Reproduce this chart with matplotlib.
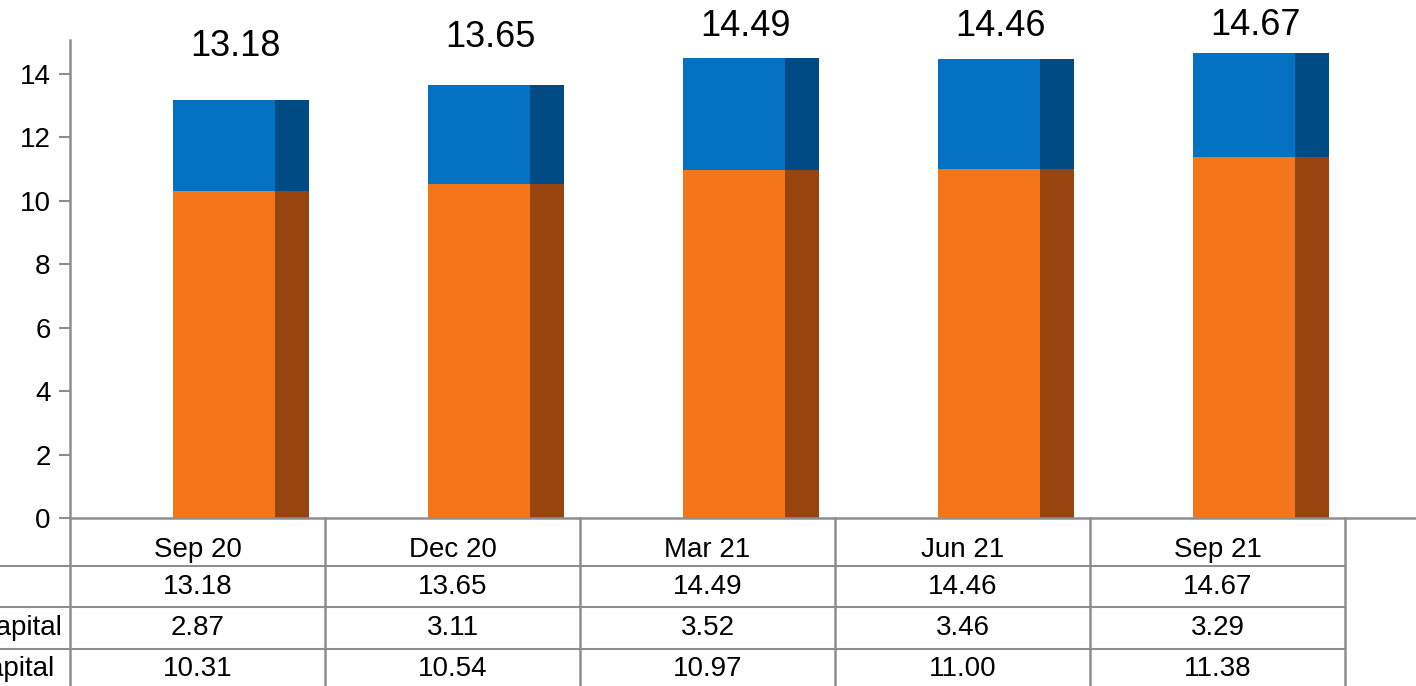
import matplotlib.pyplot as plt
from matplotlib.patches import Rectangle

plt.rcParams['font.family'] = ['Liberation Sans', 'DejaVu Sans']

# Capital adequacy by quarter (%)
quarters = ["Sep 20", "Dec 20", "Mar 21", "Jun 21", "Sep 21"]
tier1 = [10.31, 10.54, 10.97, 11.00, 11.38]
tier2 = [2.87, 3.11, 3.52, 3.46, 3.29]
total = [13.18, 13.65, 14.49, 14.46, 14.67]
row_labels = ["", "Tier II Capital", "Tier I Capital"]

# heights of the total labels above the bars
label_y = [14.85, 15.15, 15.48, 15.48, 15.52]

orange, orange_side = '#F3761B', '#98440E'
blue, blue_side = '#0271C2', '#004B84'
grid_c = '#8E8E8E'

W, H = 1416, 686
fig = plt.figure(figsize=(W / 100, H / 100), dpi=100)

x0 = 70                      # y axis position (px)
col_w = 255                  # table column width (px)
y0 = 518                     # zero line (px)
ytop = 40
xmax = -0.5 + (W - x0) / col_w

ax = fig.add_axes([x0 / W, (H - y0) / H, 1 - x0 / W, (y0 - ytop) / H])
ax.set_xlim(-0.5, xmax)
ax.set_ylim(0, 15.07)

front_l, front_w, side_w = -0.095, 0.398, 0.135
for i in range(len(quarters)):
    left = i + front_l
    for bottom, h, c, cs in [(0, tier1[i], orange, orange_side),
                             (tier1[i], tier2[i], blue, blue_side)]:
        ax.add_patch(Rectangle((left, bottom), front_w, h, facecolor=c, edgecolor='none'))
        ax.add_patch(Rectangle((left + front_w, bottom), side_w, h, facecolor=cs, edgecolor='none'))
    ax.text(i + 0.15, label_y[i], f"{total[i]:.2f}", ha='center', va='center',
            fontsize=26, clip_on=False)

ax.set_yticks(range(0, 15, 2))
ax.set_xticks([])
ax.tick_params(axis='y', length=8, width=1.5, color=grid_c, labelsize=20, pad=6)
for s in ['top', 'right']:
    ax.spines[s].set_visible(False)
for s in ['left', 'bottom']:
    ax.spines[s].set_color(grid_c)
    ax.spines[s].set_linewidth(1.8)

# data table under the chart
tax = fig.add_axes([x0 / W, 0, 1 - x0 / W, (H - y0) / H])
tax.set_xlim(-0.5, xmax)
tax.set_ylim(H - y0, 0)
tax.axis('off')

row_edges = [48, 89, 131]
row_mid = [32, 68.5, 110, 151]
for k in range(len(quarters) + 1):
    tax.plot([k - 0.5, k - 0.5], [0, H - y0 + 5], color=grid_c, lw=1.8, clip_on=False)
for yy in row_edges:
    tax.plot([-0.5 - x0 / col_w - 0.1, len(quarters) - 0.5], [yy, yy], color=grid_c,
             lw=1.5, clip_on=False)

fs = 20
for i, q in enumerate(quarters):
    tax.text(i, row_mid[0], q, ha='center', va='center', fontsize=fs)
    for r, vals in enumerate([total, tier2, tier1]):
        tax.text(i, row_mid[r + 1], f"{vals[i]:.2f}", ha='center', va='center', fontsize=fs)

# row labels are left-aligned in a column that ends just left of the axis
renderer = fig.canvas.get_renderer()
label_texts = []
for r, lab in enumerate(row_labels):
    t = tax.text(0, row_mid[r + 1], lab, ha='left', va='center', fontsize=fs, clip_on=False)
    label_texts.append(t)
widest = max(t.get_window_extent(renderer).width for t in label_texts)
label_x = -0.5 - (8 + widest) / col_w
for t in label_texts:
    t.set_x(label_x)

fig.savefig('out.png', dpi=100)
